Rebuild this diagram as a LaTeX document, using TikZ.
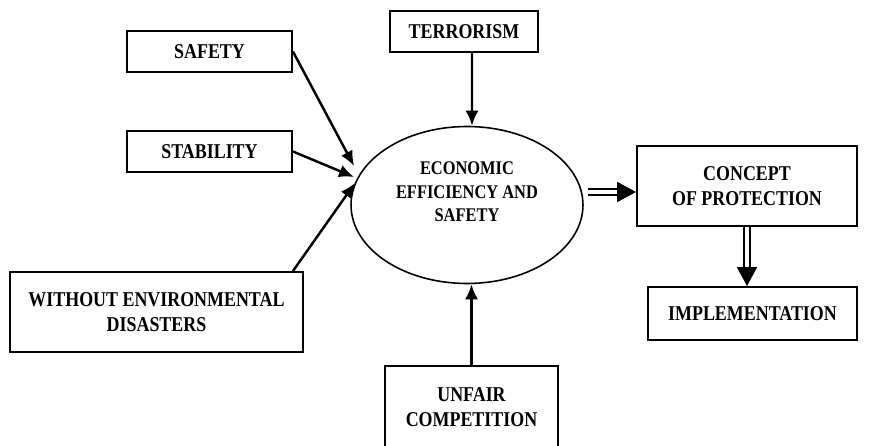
\documentclass[tikz,border=0pt]{standalone}
\usepackage{fontspec}
\setmainfont{Liberation Serif}[FakeStretch=0.85]
\usetikzlibrary{shapes.geometric,arrows.meta}

\begin{document}
\begin{tikzpicture}[x=0.02cm,y=-0.02cm,
  box/.style={draw,line width=1.1pt,align=center,inner sep=0pt,font=\bfseries\fontsize{12}{14.2}\selectfont},
  arr/.style={-{Latex[length=3mm,width=2.6mm]},line width=1.4pt},
  dbl/.style={double,double distance=1.8pt,line width=1.1pt,-{Triangle[length=3.8mm,width=4mm]}}]
\fill[white] (0,0) rectangle (870,446);
\clip (0,0) rectangle (870,446);
% factors on the left and top
\node[box,minimum width=3.3cm,minimum height=0.82cm] (safety) at (209.5,51.5) {SAFETY};
\node[box,minimum width=3.3cm,minimum height=0.82cm] (stab) at (209.5,151.5) {STABILITY};
\node[box,minimum width=5.86cm,minimum height=1.6cm] (env) at (156.5,312) {WITHOUT ENVIRONMENTAL\\DISASTERS};
\node[box,minimum width=2.96cm,minimum height=0.82cm] (terror) at (464,31.5) {TERRORISM};
\node[box,minimum width=3.46cm,minimum height=1.64cm] (unfair) at (471.5,407) {UNFAIR\\COMPETITION};
% central ellipse
\node[draw,ellipse,line width=0.9pt,minimum width=4.64cm,minimum height=3.14cm,
  label={[align=center,font=\bfseries\fontsize{11}{13.3}\selectfont,yshift=0.26cm]center:ECONOMIC\\EFFICIENCY AND\\SAFETY}] (eco) at (467,205) {};
% right column
\node[box,minimum width=4.4cm,minimum height=1.6cm] (concept) at (747,186) {CONCEPT\\OF PROTECTION};
\node[box,minimum width=4.18cm,minimum height=1.06cm] (impl) at (752.5,313.5) {IMPLEMENTATION};
\coordinate (in1) at (354,166);
\coordinate (in2) at (354,177);
\coordinate (in3) at (355,183);
\draw[arr] (safety.east) -- (in1);
\draw[arr] (stab.east) -- (in2);
\draw[arr] ([xshift=-0.22cm]env.north east) -- (in3);
\draw[arr] ([xshift=0.16cm]terror.south) -- ([xshift=0.1cm]eco.north);
\draw[arr] (unfair.north) -- (unfair.north |- eco.south);
\draw[dbl] ([xshift=0.08cm,yshift=0.26cm]eco.east) -- ([yshift=0.26cm]eco.east -| concept.west);
\draw[dbl] (concept.south) -- (concept.south |- impl.north);
\end{tikzpicture}
\end{document}
